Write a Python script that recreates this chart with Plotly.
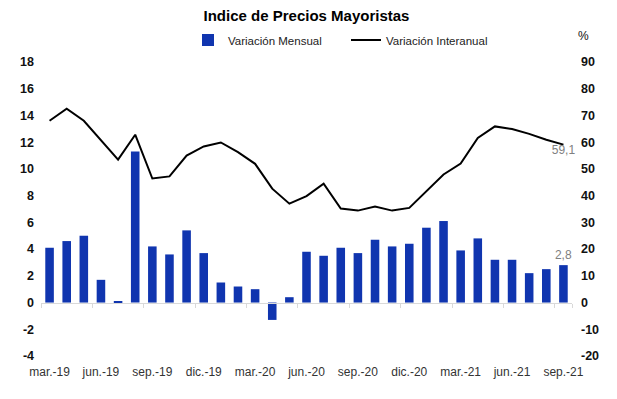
import plotly.graph_objects as go

months = ["mar.-19", "abr.-19", "may.-19", "jun.-19", "jul.-19", "ago.-19", "sep.-19", "oct.-19",
          "nov.-19", "dic.-19", "ene.-20", "feb.-20", "mar.-20", "abr.-20", "may.-20", "jun.-20",
          "jul.-20", "ago.-20", "sep.-20", "oct.-20", "nov.-20", "dic.-20", "ene.-21", "feb.-21",
          "mar.-21", "abr.-21", "may.-21", "jun.-21", "jul.-21", "ago.-21", "sep.-21"]
mensual = [4.1, 4.6, 5.0, 1.7, 0.1, 11.3, 4.2, 3.6, 5.4, 3.7, 1.5, 1.2, 1.0, -1.3, 0.4, 3.8,
           3.5, 4.1, 3.7, 4.7, 4.2, 4.4, 5.6, 6.1, 3.9, 4.8, 3.2, 3.2, 2.2, 2.5, 2.8]
interanual = [68.0, 72.5, 68.0, 60.9, 53.5, 62.8, 46.4, 47.2, 55.0, 58.4, 59.9, 56.3, 51.9, 42.6,
              37.0, 39.8, 44.5, 35.2, 34.4, 35.9, 34.4, 35.4, 41.5, 47.9, 52.0, 61.6, 65.9, 64.9,
              63.1, 60.9, 59.1]
tick_labels = ["mar.-19", "jun.-19", "sep.-19", "dic.-19", "mar.-20", "jun.-20",
               "sep.-20", "dic.-20", "mar.-21", "jun.-21", "sep.-21"]
left_ticks = list(range(-4, 19, 2))
right_ticks = list(range(-20, 91, 10))

xi = list(range(len(months)))
fmt = lambda v: f"{v:.1f}".replace(".", ",")
bar_text = [""] * (len(mensual) - 1) + [fmt(mensual[-1])]
line_text = [""] * (len(interanual) - 1) + [fmt(interanual[-1])]

label_pos = [months.index(l) for l in tick_labels]
quarter_ticks = [-0.5 + 3 * k for k in range(11)] + [len(months) - 0.5]

FONT = "Liberation Sans, Arial, sans-serif"

fig = go.Figure()
fig.add_trace(go.Bar(
    x=xi, y=mensual, name="Variación Mensual", customdata=months,
    marker=dict(color="#1035AF", line=dict(width=0)),
    text=bar_text, textposition="outside", cliponaxis=False, constraintext="none",
    textfont=dict(family=FONT, size=12, color="#808080"),
    hovertemplate="%{customdata}: %{y}<extra></extra>",
    xaxis="x", yaxis="y",
))
fig.add_trace(go.Scatter(
    x=xi, y=interanual, name="Variación Interanual", customdata=months,
    mode="lines+text", line=dict(color="#000000", width=2),
    text=line_text, textposition="bottom center", cliponaxis=False,
    textfont=dict(family=FONT, size=12, color="#808080"),
    hovertemplate="%{customdata}: %{y}<extra></extra>",
    xaxis="x2", yaxis="y2",
))

xr = [-0.5, len(months) - 0.5]
L, R, T, B = 41, 45, 62, 43
fig.update_layout(
    template="none",
    width=617, height=399,
    margin=dict(l=L, r=R, t=T, b=B, autoexpand=False),
    paper_bgcolor="white", plot_bgcolor="white",
    font=dict(family=FONT, size=11, color="#000"),
    bargap=0.5,
    showlegend=True,
    title=dict(text="<b>Indice de Precios Mayoristas</b>", x=0.5, xref="paper", xanchor="center",
               y=1 - 15.5 / 399, yref="container", yanchor="middle",
               font=dict(family=FONT, size=15, color="#000")),
    legend=dict(orientation="h", x=188 / 617, xref="container", xanchor="left",
                y=1 - 40 / 399, yref="container", yanchor="middle",
                font=dict(family=FONT, size=11.5, color="#222"),
                itemwidth=30, entrywidth=113, entrywidthmode="pixels",
                tracegroupgap=0, bgcolor="rgba(0,0,0,0)", borderwidth=0),
    xaxis=dict(range=xr, anchor="free", position=4 / 22, showgrid=False, zeroline=False,
               automargin=False, showline=True, linecolor="#d9d9d9", linewidth=1,
               tickmode="array", tickvals=quarter_ticks, ticks="outside", ticklen=4,
               tickcolor="#d9d9d9", showticklabels=False),
    xaxis2=dict(range=xr, overlaying="x", anchor="free", position=0, showgrid=False,
                automargin=False, zeroline=False, showline=False, tickmode="array",
                tickvals=label_pos, ticktext=tick_labels, ticks="outside", ticklen=5,
                tickcolor="rgba(0,0,0,0)",
                tickfont=dict(family=FONT, size=12, color="#333")),
    yaxis=dict(range=[-4, 18], tickmode="array", tickvals=left_ticks,
               ticktext=[str(v) for v in left_ticks], anchor="free", position=0,
               automargin=False, showgrid=False, zeroline=False, showline=False, ticks="",
               ticklabelstandoff=7,
               tickfont=dict(family=FONT, size=12.5, color="#111", weight="bold")),
    yaxis2=dict(range=[-20, 90], tickmode="array", tickvals=right_ticks,
                ticktext=[str(v) for v in right_ticks], overlaying="y", side="right",
                anchor="free", position=1, automargin=False, showgrid=False, zeroline=False,
                showline=False, ticks="", ticklabelstandoff=8,
                tickfont=dict(family=FONT, size=12.5, color="#111", weight="bold")),
    annotations=[dict(text="%", x=(583 - L) / (617 - L - R), y=1 + (T - 35.5) / (399 - T - B),
                      xref="paper", yref="paper",
                      showarrow=False, xanchor="center", yanchor="middle",
                      font=dict(family=FONT, size=12, color="#111"))],
)

fig.write_html("out.html", config={"displayModeBar": False},
               post_script="document.body.style.margin='0';")
